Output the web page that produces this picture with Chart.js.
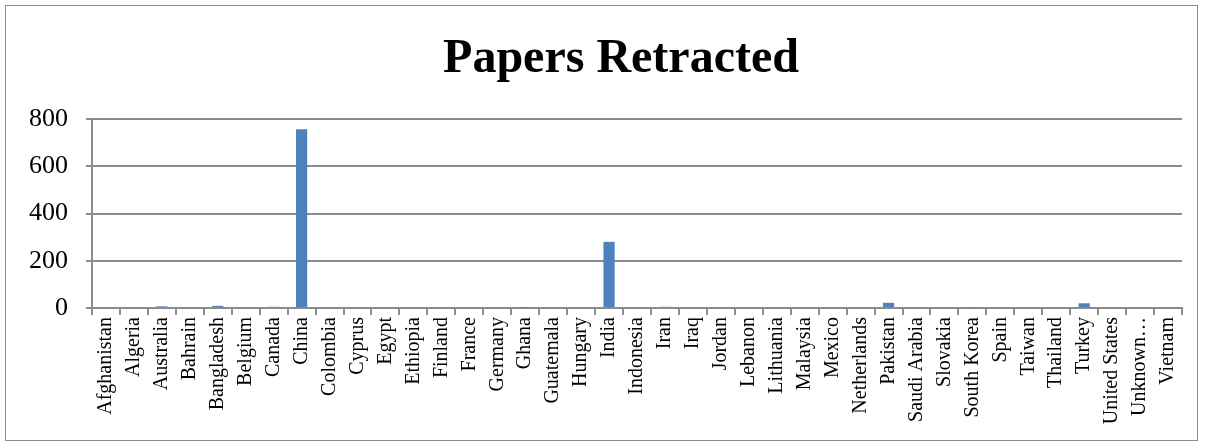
<!DOCTYPE html>
<html>
<head>
<meta charset="utf-8">
<script src="https://cdn.jsdelivr.net/npm/chart.js@4/dist/chart.umd.min.js"></script>
<style>
  html, body { margin: 0; padding: 0; background: #fff; }
  #frame { position: absolute; left: 5px; top: 5px; width: 1191px; height: 434px; border: 1px solid #8c8c8c; }
  #wrap { position: absolute; left: 0; top: 0; width: 1205px; height: 446px; }
</style>
</head>
<body>
<div id="frame"></div>
<div id="wrap"><canvas id="myChart" width="1205" height="446"></canvas></div>
<script>
// Countries on the x axis
const countries = [
  'Afghanistan', 'Algeria', 'Australia', 'Bahrain', 'Bangladesh', 'Belgium', 'Canada', 'China',
  'Colombia', 'Cyprus', 'Egypt', 'Ethiopia', 'Finland', 'France', 'Germany', 'Ghana',
  'Guatemala', 'Hungary', 'India', 'Indonesia', 'Iran', 'Iraq', 'Jordan', 'Lebanon',
  'Lithuania', 'Malaysia', 'Mexico', 'Netherlands', 'Pakistan', 'Saudi Arabia', 'Slovakia',
  'South Korea', 'Spain', 'Taiwan', 'Thailand', 'Turkey', 'United States', 'Unknown\u2026', 'Vietnam'
];
// Papers retracted per country
const retracted = [
  0, 2, 7, 0, 9, 0, 5, 757,
  0, 0, 4, 4, 0, 0, 0, 1,
  0, 0, 280, 0, 5, 3, 0, 0,
  0, 0, 0, 0, 22, 0, 0,
  2, 0, 3, 0, 20, 3, 0, 0
];
const yTicks = [0, 200, 400, 600, 800];
const chartTitle = 'Papers Retracted';

const gridColor = '#8c8c8c';
const ctx = document.getElementById('myChart').getContext('2d');

// The original title sits a bit right of the canvas centre, so draw it ourselves
const titlePlugin = {
  id: 'offsetTitle',
  afterDraw(chart) {
    const c = chart.ctx;
    c.save();
    c.fillStyle = '#000';
    c.font = 'bold 48px "Liberation Serif", "Times New Roman", serif';
    c.textAlign = 'center';
    c.textBaseline = 'middle';
    c.fillText(chartTitle, 621, 60);
    c.restore();
  }
};

new Chart(ctx, {
  type: 'bar',
  data: {
    labels: countries,
    datasets: [{
      label: chartTitle,
      data: retracted,
      backgroundColor: '#4f81bd',
      barPercentage: 0.4,
      categoryPercentage: 1.0
    }]
  },
  options: {
    responsive: false,
    animation: false,
    layout: { padding: { left: 0, right: 23, top: 119, bottom: 8 } },
    plugins: {
      legend: { display: false },
      tooltip: { enabled: false },
      title: { display: false }
    },
    scales: {
      x: {
        offset: true,
        grid: {
          offset: true,
          drawOnChartArea: false,
          drawTicks: true,
          tickLength: 7,
          color: gridColor,
          lineWidth: 2
        },
        border: { color: gridColor, width: 2 },
        ticks: {
          color: '#000',
          autoSkip: false,
          maxRotation: 90,
          minRotation: 90,
          padding: 2,
          font: { family: '"Liberation Serif", "Times New Roman", serif', size: 20 }
        },
        afterFit: scale => { scale.height = 130; }
      },
      y: {
        min: 0,
        max: 800,
        afterBuildTicks: scale => { scale.ticks = yTicks.map(v => ({ value: v })); },
        grid: {
          color: gridColor,
          lineWidth: 2,
          drawTicks: true,
          tickLength: 6
        },
        border: { color: gridColor, width: 2 },
        ticks: {
          color: '#000',
          padding: 18,
          font: { family: '"Liberation Serif", "Times New Roman", serif', size: 26 }
        },
        afterFit: scale => { scale.width = 92; }
      }
    }
  },
  plugins: [titlePlugin]
});
</script>
</body>
</html>
